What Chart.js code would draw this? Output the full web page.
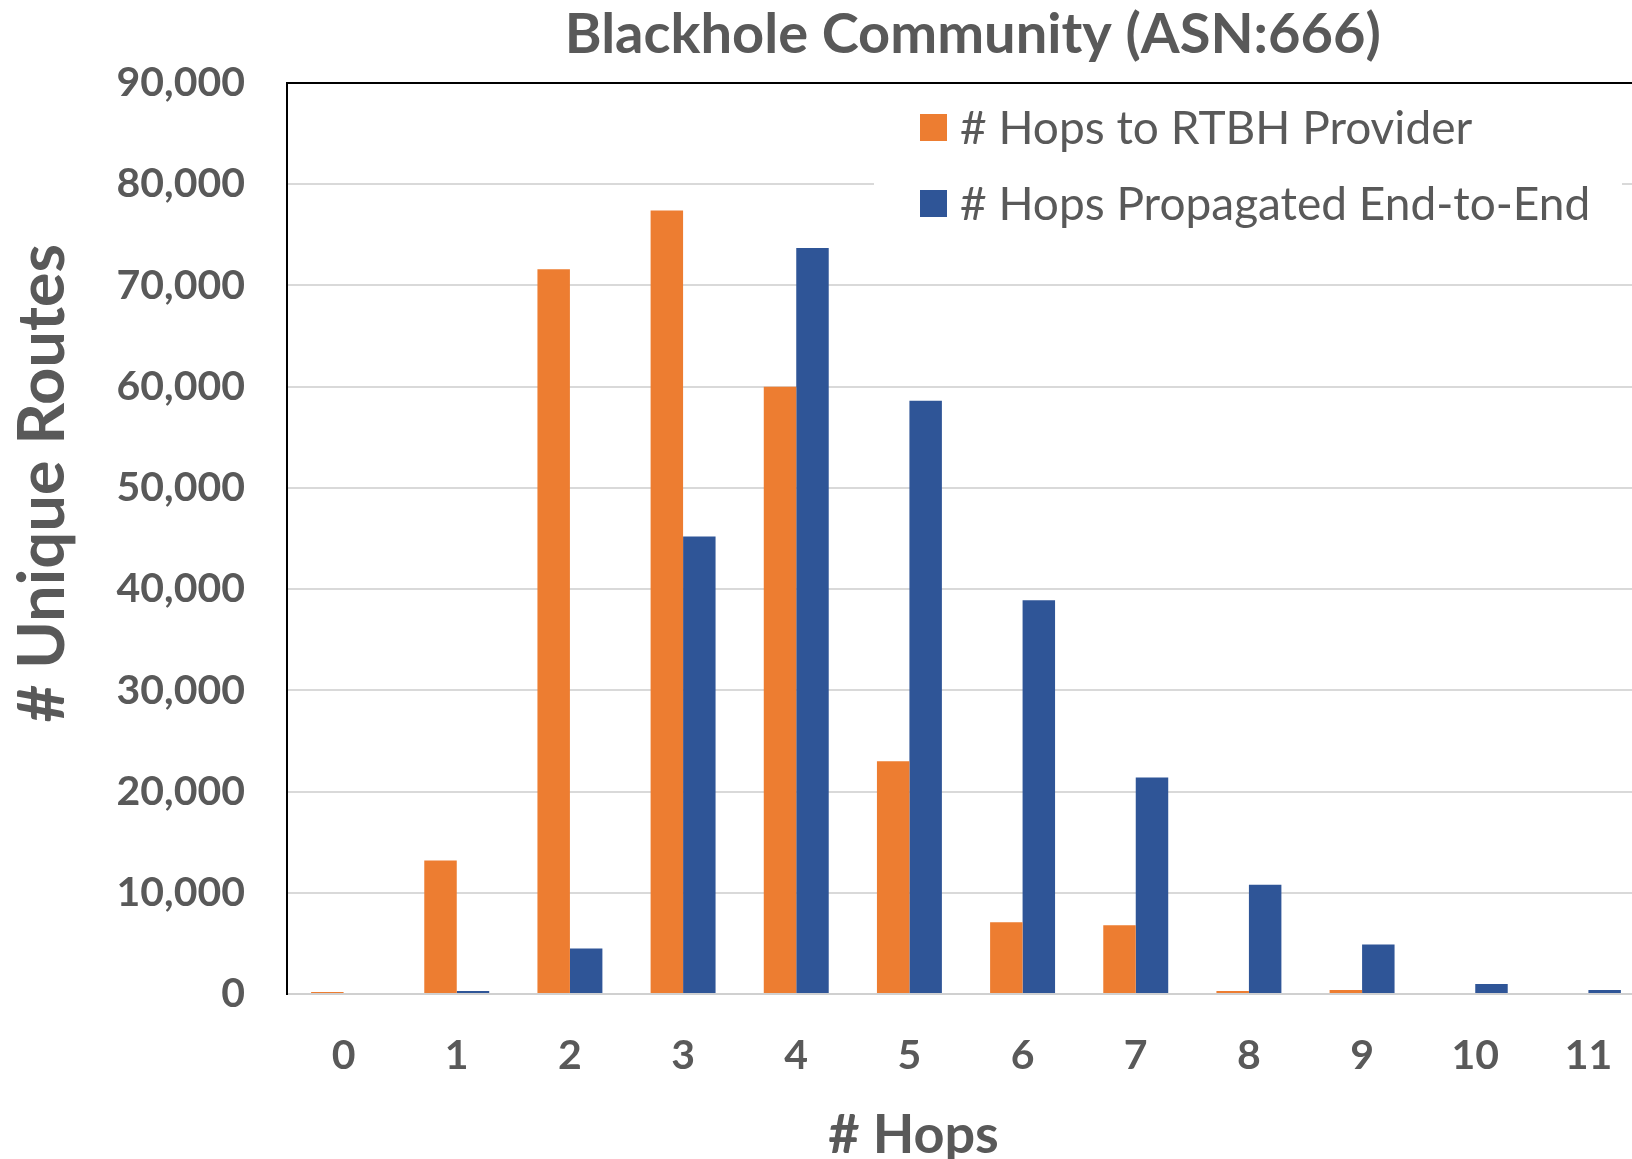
<!DOCTYPE html>
<html>
<head>
<meta charset="utf-8">
<script src="https://cdn.jsdelivr.net/npm/chart.js@4.4.1/dist/chart.umd.min.js"></script>
<style>
  html, body { margin: 0; padding: 0; background: #fff; overflow: hidden; }
  #wrap { width: 1660px; height: 1159px; }
</style>
</head>
<body>
<div id="wrap"><canvas id="chart" width="1660" height="1159"></canvas></div>
<script>
const hops = ['0', '1', '2', '3', '4', '5', '6', '7', '8', '9', '10', '11'];
const hopsToProvider = [200, 13200, 71600, 77400, 60000, 23000, 7100, 6800, 300, 400, 0, 0];
const hopsEndToEnd = [0, 300, 4500, 45200, 73700, 58600, 38900, 21400, 10800, 4900, 1000, 400];
const yTicks = [0, 10000, 20000, 30000, 40000, 50000, 60000, 70000, 80000, 90000];

const textGray = '#595959';

// legend drawn inside the plot, over a white box
const insideLegend = {
    id: 'insideLegend',
    afterDatasetsDraw(chart) {
        const ctx = chart.ctx;
        ctx.save();
        ctx.fillStyle = '#fff';
        ctx.fillRect(874, 92, 748, 150);
        ctx.font = '46px Lato';
        ctx.textBaseline = 'middle';
        chart.data.datasets.forEach((ds, i) => {
            const y = 128 + i * 76;
            ctx.fillStyle = ds.backgroundColor;
            ctx.fillRect(920, y - 14, 27, 27);
            ctx.fillStyle = textGray;
            ctx.fillText(ds.label, 960, y + 1);
        });
        ctx.restore();
    }
};

// black top edge of the plot area
const plotFrame = {
    id: 'plotFrame',
    afterDraw(chart) {
        const { ctx, chartArea } = chart;
        ctx.save();
        ctx.strokeStyle = '#000';
        ctx.lineWidth = 2;
        ctx.beginPath();
        ctx.moveTo(chartArea.left - 1, chartArea.top);
        ctx.lineTo(chart.width, chartArea.top);
        ctx.stroke();
        ctx.restore();
    }
};

new Chart(document.getElementById('chart').getContext('2d'), {
    type: 'bar',
    data: {
        labels: hops,
        datasets: [{
            label: '# Hops to RTBH Provider',
            data: hopsToProvider,
            backgroundColor: '#ED7D31',
            borderWidth: 0
        }, {
            label: '# Hops Propagated End-to-End',
            data: hopsEndToEnd,
            backgroundColor: '#2F5597',
            borderWidth: 0
        }]
    },
    options: {
        responsive: false,
        devicePixelRatio: 1,
        animation: false,
        datasets: {
            bar: { categoryPercentage: 0.574, barPercentage: 1 }
        },
        layout: { padding: { left: 0, right: 15, top: 0, bottom: 0 } },
        plugins: {
            legend: { display: false },
            tooltip: { enabled: false },
            title: {
                display: true,
                fullSize: false,
                text: ' Blackhole Community (ASN:666)',
                color: textGray,
                font: { family: 'Lato', size: 56, weight: 'bold', lineHeight: 1.2 },
                padding: { top: 1.5, bottom: 14.3 }
            }
        },
        scales: {
            x: {
                grid: { display: false, drawTicks: false },
                border: { color: '#d0d0d0', width: 2 },
                ticks: {
                    color: textGray,
                    padding: 37,
                    font: { family: 'Lato', size: 41, weight: 'bold' }
                },
                title: {
                    display: true,
                    // padding spaces keep the label off-centre, as in the original
                    text: '# Hops        ',
                    color: textGray,
                    font: { family: 'Lato', size: 54, weight: 'bold', lineHeight: 1.2 },
                    padding: { top: 0, bottom: -9 }
                },
                afterFit(scale) { scale.height = 165; }
            },
            y: {
                min: 0,
                max: 90000,
                grid: { color: '#d9d9d9', lineWidth: 2, drawTicks: false },
                border: { color: '#000', width: 2 },
                afterBuildTicks(scale) { scale.ticks = yTicks.map(v => ({ value: v })); },
                ticks: {
                    color: textGray,
                    padding: 42,
                    font: { family: 'Lato', size: 41, weight: 'bold' },
                    callback: v => v.toLocaleString('en-US')
                },
                title: {
                    display: true,
                    text: '       # Unique Routes',
                    color: textGray,
                    font: { family: 'Lato', size: 65, weight: 'bold', lineHeight: 1.2 },
                    padding: { top: 4, bottom: 0 }
                },
                afterFit(scale) { scale.width = 287; }
            }
        }
    },
    plugins: [insideLegend, plotFrame]
});
</script>
</body>
</html>
